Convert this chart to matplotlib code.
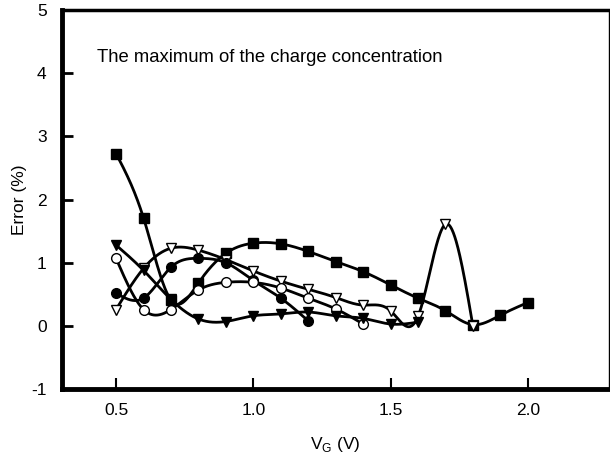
import numpy as np
import matplotlib
matplotlib.use("Agg")
import matplotlib.pyplot as plt

plt.rcParams['font.family'] = ['Liberation Sans', 'DejaVu Sans']

# ---- data (V_G in volts, error in %) ----
vg_sq = [0.5, 0.6, 0.7, 0.8, 0.9, 1.0, 1.1, 1.2, 1.3, 1.4, 1.5, 1.6, 1.7, 1.8, 1.9, 2.0]
err_sq = [2.73, 1.71, 0.41, 0.68, 1.15, 1.31, 1.30, 1.18, 1.02, 0.86, 0.65, 0.44, 0.24, 0.02, 0.17, 0.37]

vg_otri = [0.5, 0.6, 0.7, 0.8, 0.9, 1.0, 1.1, 1.2, 1.3, 1.4, 1.5, 1.6, 1.7, 1.8]
err_otri = [0.26, 0.91, 1.23, 1.20, 1.05, 0.87, 0.71, 0.58, 0.45, 0.33, 0.24, 0.15, 1.61, 0.0]

vg_fcirc = [0.5, 0.6, 0.7, 0.8, 0.9, 1.0, 1.1, 1.2]
err_fcirc = [0.52, 0.44, 0.93, 1.07, 1.00, 0.72, 0.44, 0.08]

vg_ocirc = [0.5, 0.6, 0.7, 0.8, 0.9, 1.0, 1.1, 1.2, 1.3, 1.4]
err_ocirc = [1.07, 0.26, 0.26, 0.57, 0.69, 0.69, 0.60, 0.44, 0.27, 0.03]

vg_ftri = [0.5, 0.6, 0.7, 0.8, 0.9, 1.0, 1.1, 1.2, 1.3, 1.4, 1.5, 1.6]
err_ftri = [1.28, 0.88, 0.42, 0.11, 0.07, 0.16, 0.19, 0.22, 0.16, 0.12, 0.03, 0.06]

y_ticks = [-1, 0, 1, 2, 3, 4, 5]
x_ticks = [0.5, 1.0, 1.5, 2.0]
x_tick_labels = ['0.5', '1.0', '1.5', '2.0']


def natural_spline(x, y, n=60):
    x = np.asarray(x, float)
    y = np.asarray(y, float)
    N = len(x)
    h = np.diff(x)
    A = np.zeros((N, N))
    b = np.zeros(N)
    A[0, 0] = 1
    A[-1, -1] = 1
    for i in range(1, N - 1):
        A[i, i - 1] = h[i - 1]
        A[i, i] = 2 * (h[i - 1] + h[i])
        A[i, i + 1] = h[i]
        b[i] = 6 * ((y[i + 1] - y[i]) / h[i] - (y[i] - y[i - 1]) / h[i - 1])
    M = np.linalg.solve(A, b)
    xs, ys = [], []
    for i in range(N - 1):
        t = np.linspace(x[i], x[i + 1], n, endpoint=(i == N - 2))
        a = x[i + 1] - t
        c = t - x[i]
        s = (M[i] * a ** 3 + M[i + 1] * c ** 3) / (6 * h[i]) \
            + (y[i] / h[i] - M[i] * h[i] / 6) * a \
            + (y[i + 1] / h[i] - M[i + 1] * h[i] / 6) * c
        xs.append(t)
        ys.append(s)
    return np.concatenate(xs), np.concatenate(ys)


fig = plt.figure(figsize=(6.10, 4.61), dpi=100)
ax = fig.add_axes([0.1016, 0.156, 0.8964, 0.822])

series = [
    (vg_sq, err_sq, 's', 'black'),
    (vg_otri, err_otri, 'v', 'white'),
    (vg_fcirc, err_fcirc, 'o', 'black'),
    (vg_ocirc, err_ocirc, 'o', 'white'),
    (vg_ftri, err_ftri, 'v', 'black'),
]

for x, y, m, fc in series:
    sx, sy = natural_spline(x, y)
    ax.plot(sx, sy, color='black', lw=2.0, zorder=2, solid_capstyle='round')
for x, y, m, fc in series:
    ms = 7.5 if m == 'v' else 7
    if m == 's':
        ms = 6.5
    ax.plot(x, y, linestyle='none', marker=m, markersize=ms,
            markerfacecolor=fc, markeredgecolor='black', markeredgewidth=1.0, zorder=3)

ax.set_xlim(0.303, 2.295)
ax.set_ylim(-1, 5)
ax.set_yticks(y_ticks)
ax.set_yticklabels([str(v) for v in y_ticks])
ax.set_xticks(x_ticks)
ax.set_xticklabels(x_tick_labels)

ax.tick_params(axis='y', direction='in', length=8, width=2, labelsize=12.5, pad=11)
ax.tick_params(axis='x', direction='in', length=8, width=1.5, labelsize=12.5, pad=10)

for side, lw in [('left', 3.5), ('bottom', 3.5), ('top', 2.5), ('right', 1.0)]:
    ax.spines[side].set_linewidth(lw)
    ax.spines[side].set_color('black')

ax.set_ylabel('Error (%)', fontsize=12.5, labelpad=3)
ax.set_xlabel('V$_\\mathregular{G}$ (V)', fontsize=12.5, labelpad=12)

ax.text(0.064, 0.876, 'The maximum of the charge concentration', transform=ax.transAxes,
        fontsize=13.3, ha='left', va='center')

fig.savefig('out.png', dpi=100)
